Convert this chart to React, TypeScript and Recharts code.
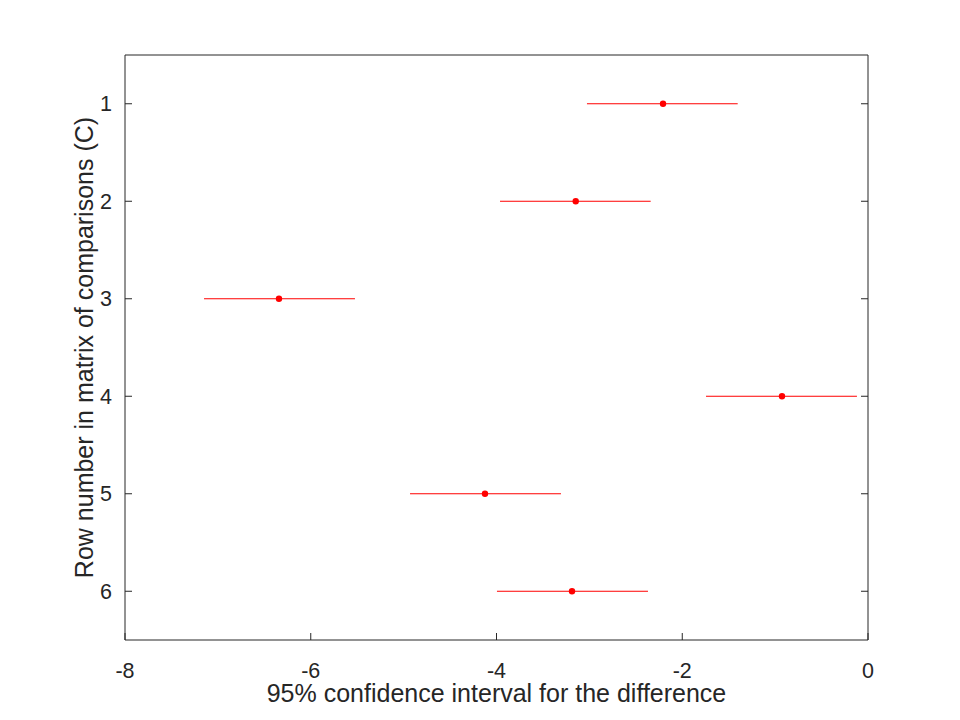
import React from 'react'
import { Scatter, ScatterChart, XAxis, YAxis } from 'recharts'

// ─── Data ───────────────────────────────────────────────────────────────────────
const rows = [1, 2, 3, 4, 5, 6]
const lower = [-3.026, -3.962, -7.149, -1.744, -4.931, -3.995]
const means = [-2.207, -3.147, -6.342, -0.926, -4.124, -3.187]
const upper = [-1.403, -2.34, -5.524, -0.119, -3.306, -2.369]
const xTicks = [-8, -6, -4, -2, 0]

const INK = '#262626'
const RED = '#ff0000'
const FONT = '"Liberation Sans", Arial, Helvetica, sans-serif'

const meanPoints = rows.map((r, i) => ({ x: means[i], y: r }))
const segments = rows.map((r, i) => [
  { x: lower[i], y: r },
  { x: upper[i], y: r },
])

const YTitle = ({ viewBox }: any) => {
  const cy = viewBox.y + viewBox.height / 2
  return (
    <text
      transform={`translate(93, ${cy}) rotate(-90)`}
      textAnchor="middle"
      fontSize={25}
      fill={INK}
      fontFamily={FONT}
    >
      Row number in matrix of comparisons (C)
    </text>
  )
}

// tick labels drawn as plain svg text so the size is exactly what we ask for
const XTick = ({ x, y, payload }: any) => (
  <text x={x} y={y + 15} textAnchor="middle" fontSize={21.5} fill={INK} fontFamily={FONT}>
    {payload.value}
  </text>
)
const YTick = ({ x, y, payload }: any) => (
  <text x={x} y={y + 7.5} textAnchor="end" fontSize={21.5} fill={INK} fontFamily={FONT}>
    {payload.value}
  </text>
)

const Dot = ({ cx, cy }: any) => <circle cx={cx} cy={cy} r={3.2} fill={RED} />
const NoShape = () => <g />

export default function App() {
  return (
    <div style={{ position: 'absolute', left: 0, top: 0, width: 960, height: 720, background: '#fff' }}>
      <ScatterChart width={960} height={720} margin={{ top: 54, right: 91, bottom: 79, left: 124 }}>
        <XAxis
          type="number"
          dataKey="x"
          domain={[-8, 0]}
          ticks={xTicks}
          allowDataOverflow
          height={1}
          stroke={INK}
          tick={<XTick />}
          tickSize={-7}
          tickMargin={30}
          label={{
            value: '95% confidence interval for the difference',
            position: 'bottom',
            offset: 43,
            fontSize: 25,
            fill: INK,
            fontFamily: FONT,
          }}
        />
        <XAxis
          xAxisId="top"
          orientation="top"
          type="number"
          domain={[-8, 0]}
          ticks={xTicks}
          allowDataOverflow
          height={1}
          stroke={INK}
          tickSize={-7}
          tickFormatter={() => ''}
        />
        <YAxis
          type="number"
          dataKey="y"
          domain={[0.5, 6.5]}
          ticks={rows}
          reversed
          allowDataOverflow
          width={1}
          stroke={INK}
          tick={<YTick />}
          tickSize={-7}
          tickMargin={20}
          label={{ content: <YTitle /> }}
        />
        <YAxis
          yAxisId="right"
          orientation="right"
          type="number"
          domain={[0.5, 6.5]}
          ticks={rows}
          reversed
          allowDataOverflow
          width={1}
          stroke={INK}
          tickSize={-7}
          tickFormatter={() => ''}
        />
        {segments.map((seg, i) => (
          <Scatter
            key={i}
            data={seg}
            line={{ stroke: RED, strokeWidth: 1 }}
            shape={<NoShape />}
            isAnimationActive={false}
          />
        ))}
        <Scatter data={meanPoints} shape={<Dot />} fill={RED} isAnimationActive={false} />
      </ScatterChart>
    </div>
  )
}
